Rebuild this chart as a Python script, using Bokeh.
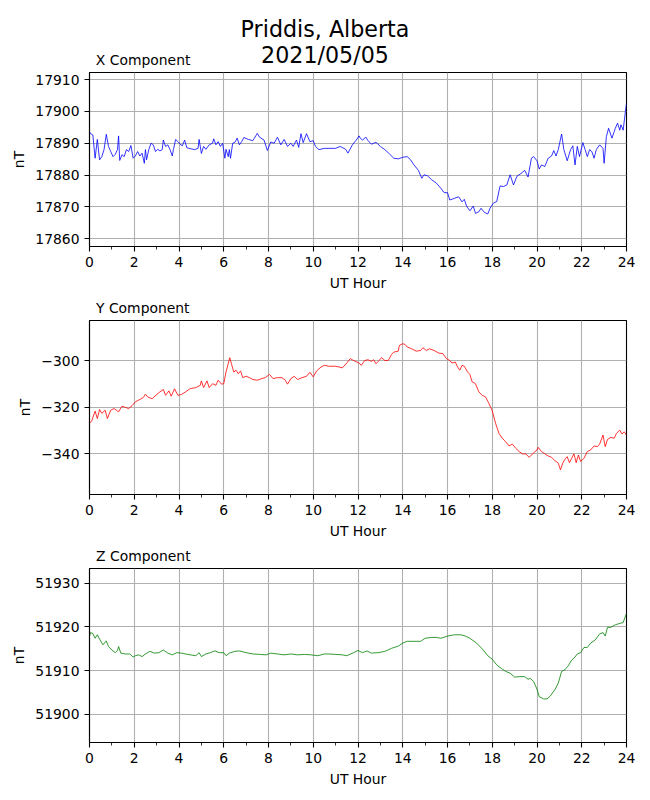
from bokeh.plotting import figure
from bokeh.layouts import column
from bokeh.models import Range1d, FixedTicker, CustomJSTickFormatter
from bokeh.core.properties import value
from bokeh.embed import file_html
from bokeh.resources import INLINE

FONT = "DejaVu Sans"

suptitle_lines = ["Priddis, Alberta", "2021/05/05"]
panel_titles = ["X Component", "Y Component", "Z Component"]
x_label = "UT Hour"
y_label = "nT"
hour_ticks = [0, 2, 4, 6, 8, 10, 12, 14, 16, 18, 20, 22, 24]
hour_minor = list(range(0, 25))

# ---- X component ----
x_hours = [0, 0.05, 0.15, 0.25, 0.35, 0.45, 0.55, 0.65, 0.75, 0.85,
           0.95, 1.05, 1.15, 1.25, 1.3, 1.35, 1.45, 1.55, 1.65, 1.75,
           1.85, 1.95, 2.05, 2.15, 2.25, 2.35, 2.45, 2.5, 2.55, 2.65,
           2.75, 2.85, 2.95, 3.05, 3.15, 3.25, 3.3, 3.4, 3.5, 3.6,
           3.7, 3.75, 3.85, 3.95, 4.05, 4.15, 4.25, 4.35, 4.5, 4.7,
           4.85, 4.9, 5.0, 5.1, 5.2, 5.35, 5.5, 5.55, 5.65, 5.75,
           5.85, 5.95, 6.05, 6.1, 6.2, 6.25, 6.3, 6.4, 6.5, 6.6,
           6.7, 6.8, 6.9, 7.1, 7.3, 7.5, 7.6, 7.8, 7.95, 8.1,
           8.25, 8.4, 8.55, 8.7, 8.85, 9.0, 9.1, 9.25, 9.35, 9.45,
           9.55, 9.7, 9.85, 10.0, 10.1, 10.25, 10.5, 10.7, 11.0, 11.2,
           11.45, 11.55, 11.75, 11.9, 12.05, 12.1, 12.2, 12.35, 12.45, 12.6,
           12.8, 13.0, 13.2, 13.4, 13.6, 13.8, 14.0, 14.2, 14.35, 14.5,
           14.7, 14.85, 14.95, 15.1, 15.3, 15.5, 15.7, 15.85, 16.0, 16.1,
           16.3, 16.5, 16.65, 16.75, 16.85, 17.0, 17.15, 17.25, 17.4, 17.5,
           17.65, 17.8, 17.9, 18.05, 18.2, 18.35, 18.5, 18.65, 18.8, 18.95,
           19.1, 19.3, 19.45, 19.6, 19.75, 19.85, 20.0, 20.1, 20.2, 20.35,
           20.5, 20.65, 20.75, 20.85, 20.95, 21.1, 21.2, 21.35, 21.5, 21.6,
           21.7, 21.8, 21.9, 22.05, 22.15, 22.25, 22.35, 22.45, 22.55, 22.65,
           22.8, 22.95, 23.0, 23.1, 23.2, 23.35, 23.5, 23.6, 23.7, 23.75,
           23.85, 23.95, 24.0]
x_values = [17893.6, 17893.0, 17892.6, 17885.3, 17891.2, 17884.8, 17885.8, 17888.0, 17892.8, 17889.0,
            17887.4, 17885.8, 17886.5, 17888.0, 17892.3, 17884.6, 17886.4, 17885.8, 17888.0, 17887.4,
            17889.3, 17885.3, 17886.0, 17887.4, 17886.0, 17886.9, 17883.7, 17888.0, 17884.8, 17888.0,
            17890.0, 17889.5, 17887.4, 17888.1, 17887.6, 17888.0, 17891.0, 17889.0, 17889.5, 17888.0,
            17886.0, 17888.0, 17891.2, 17890.5, 17889.7, 17889.2, 17891.0, 17888.6, 17888.3, 17888.0,
            17888.4, 17891.2, 17886.8, 17889.0, 17888.1, 17889.5, 17890.0, 17891.4, 17889.5, 17890.5,
            17889.0, 17890.0, 17885.3, 17888.1, 17885.8, 17888.0, 17885.3, 17890.0, 17890.3, 17891.6,
            17889.5, 17890.5, 17891.8, 17891.2, 17890.8, 17893.1, 17891.9, 17891.0, 17887.7, 17890.4,
            17890.0, 17891.9, 17889.5, 17891.2, 17889.0, 17890.0, 17889.0, 17891.0, 17888.7, 17893.0,
            17890.2, 17893.0, 17890.5, 17890.8, 17889.0, 17888.0, 17888.4, 17888.4, 17888.4, 17889.0,
            17888.1, 17886.9, 17889.5, 17890.8, 17892.3, 17891.6, 17891.0, 17891.9, 17890.8, 17889.7,
            17890.3, 17889.0, 17888.0, 17886.7, 17885.3, 17885.1, 17885.6, 17885.8, 17884.8, 17883.2,
            17881.5, 17879.0, 17880.1, 17879.8, 17878.5, 17877.5, 17875.9, 17874.5, 17874.5, 17872.2,
            17872.7, 17873.2, 17871.6, 17872.4, 17870.3, 17868.8, 17870.3, 17868.0, 17868.5, 17869.6,
            17868.3, 17867.8, 17869.6, 17871.2, 17871.7, 17876.6, 17876.4, 17876.9, 17880.1, 17876.9,
            17879.6, 17880.6, 17881.5, 17879.4, 17885.3, 17885.8, 17884.5, 17881.9, 17883.2, 17882.7,
            17885.3, 17886.0, 17887.7, 17886.0, 17888.0, 17892.9, 17888.0, 17884.5, 17888.0, 17889.2,
            17883.2, 17889.0, 17885.8, 17890.2, 17888.0, 17885.8, 17888.0, 17887.4, 17885.3, 17888.0,
            17889.5, 17888.4, 17883.7, 17892.1, 17894.7, 17891.6, 17894.7, 17896.3, 17894.1, 17895.8,
            17894.1, 17899.9, 17902.5]

# ---- Y component ----
y_hours = [0, 0.1, 0.25, 0.35, 0.45, 0.55, 0.7, 0.8, 0.95, 1.1,
           1.3, 1.45, 1.6, 1.75, 1.9, 2.05, 2.25, 2.4, 2.5, 2.6,
           2.8, 3.0, 3.15, 3.3, 3.4, 3.55, 3.65, 3.8, 3.95, 4.1,
           4.3, 4.5, 4.75, 4.95, 5.0, 5.1, 5.25, 5.35, 5.5, 5.65,
           5.75, 5.9, 6.0, 6.1, 6.2, 6.27, 6.35, 6.45, 6.55, 6.65,
           6.75, 6.85, 7.0, 7.15, 7.3, 7.5, 7.7, 7.85, 8.05, 8.2,
           8.4, 8.6, 8.75, 8.85, 9.0, 9.15, 9.3, 9.5, 9.7, 9.85,
           10.0, 10.15, 10.35, 10.5, 10.7, 11.0, 11.15, 11.3, 11.5, 11.65,
           11.8, 11.95, 12.05, 12.15, 12.3, 12.45, 12.6, 12.7, 12.8, 12.95,
           13.05, 13.2, 13.35, 13.5, 13.6, 13.8, 13.85, 14.0, 14.1, 14.2,
           14.4, 14.6, 14.8, 14.9, 15.05, 15.2, 15.4, 15.6, 15.8, 15.95,
           16.1, 16.2, 16.35, 16.45, 16.55, 16.65, 16.75, 16.9, 17.0, 17.1,
           17.25, 17.4, 17.55, 17.7, 17.85, 18.0, 18.15, 18.3, 18.45, 18.6,
           18.75, 18.9, 19.05, 19.2, 19.35, 19.5, 19.65, 19.8, 20.0, 20.05,
           20.2, 20.35, 20.5, 20.65, 20.8, 20.95, 21.05, 21.15, 21.25, 21.35,
           21.45, 21.55, 21.65, 21.75, 21.85, 21.95, 22.1, 22.25, 22.4, 22.55,
           22.7, 22.8, 22.95, 23.05, 23.15, 23.3, 23.45, 23.55, 23.7, 23.8,
           23.9, 24.0]
y_values = [-327.0, -325.9, -321.7, -324.9, -321.0, -322.7, -321.3, -324.9, -321.3, -320.6,
            -322.0, -319.6, -320.1, -320.6, -319.4, -317.7, -316.7, -315.9, -314.4, -315.6,
            -316.4, -314.6, -313.4, -312.4, -314.9, -313.0, -315.3, -312.1, -314.9, -314.6,
            -313.4, -312.0, -311.6, -310.6, -308.7, -311.6, -308.7, -311.6, -309.9, -310.6,
            -308.4, -310.1, -309.9, -304.9, -301.3, -298.7, -301.6, -304.9, -304.1, -305.6,
            -304.4, -307.3, -306.7, -307.3, -308.1, -308.4, -307.7, -307.3, -305.9, -307.7,
            -307.3, -307.3, -308.4, -310.1, -307.7, -306.7, -308.1, -307.3, -306.7, -305.0,
            -307.0, -304.4, -302.7, -302.0, -302.4, -302.4, -302.7, -303.1, -301.0, -299.1,
            -299.9, -300.6, -301.0, -302.0, -299.9, -299.6, -300.3, -299.6, -301.3, -299.9,
            -298.7, -299.9, -299.9, -297.3, -296.3, -295.9, -293.4, -292.7, -293.0, -294.1,
            -294.9, -295.9, -295.6, -294.4, -295.6, -294.9, -295.6, -296.7, -297.0, -299.1,
            -299.9, -301.0, -300.6, -302.7, -304.1, -302.0, -302.4, -304.9, -305.9, -309.1,
            -309.9, -313.4, -314.9, -315.6, -318.4, -321.6, -327.0, -331.3, -333.4, -334.9,
            -336.7, -335.9, -337.7, -339.1, -340.1, -340.1, -341.6, -340.1, -338.4, -337.3,
            -339.1, -340.1, -341.0, -341.6, -343.0, -344.1, -347.0, -344.1, -342.4, -341.3,
            -343.9, -342.0, -340.1, -343.9, -340.6, -343.4, -342.0, -339.1, -338.4, -336.7,
            -337.0, -335.9, -332.0, -337.0, -333.9, -333.0, -333.4, -331.3, -329.9, -331.6,
            -330.6, -332.0]

# ---- Z component ----
z_hours = [0, 0.05, 0.15, 0.25, 0.35, 0.45, 0.6, 0.75, 0.85, 1.0,
           1.15, 1.25, 1.3, 1.4, 1.6, 1.8, 1.95, 2.05, 2.2, 2.35,
           2.5, 2.7, 2.9, 3.1, 3.3, 3.5, 3.7, 3.9, 4.1, 4.3,
           4.5, 4.75, 4.9, 5.0, 5.2, 5.4, 5.6, 5.8, 6.0, 6.1,
           6.25, 6.5, 6.7, 7.0, 7.3, 7.6, 7.9, 8.1, 8.4, 8.7,
           9.0, 9.3, 9.6, 9.9, 10.2, 10.5, 10.7, 11.0, 11.3, 11.5,
           11.8, 12.0, 12.2, 12.4, 12.6, 12.9, 13.2, 13.5, 13.8, 14.0,
           14.2, 14.5, 14.8, 15.0, 15.3, 15.5, 15.7, 16.0, 16.3, 16.6,
           16.8, 17.0, 17.3, 17.6, 17.8, 18.0, 18.2, 18.4, 18.6, 18.8,
           19.0, 19.2, 19.45, 19.6, 19.7, 19.85, 20.0, 20.1, 20.3, 20.45,
           20.6, 20.8, 20.95, 21.1, 21.25, 21.4, 21.55, 21.65, 21.8, 21.95,
           22.1, 22.25, 22.4, 22.6, 22.8, 22.95, 23.05, 23.15, 23.3, 23.5,
           23.7, 23.85, 24.0]
z_values = [51917.9, 51918.7, 51918.5, 51917.4, 51918.2, 51917.2, 51915.9, 51916.8, 51915.5, 51914.7,
            51914.1, 51914.6, 51915.5, 51914.0, 51913.8, 51913.8, 51913.1, 51913.4, 51913.6, 51913.2,
            51913.8, 51914.4, 51914.0, 51914.1, 51914.7, 51914.0, 51913.6, 51914.1, 51914.0, 51913.8,
            51913.6, 51913.4, 51914.1, 51913.2, 51913.8, 51914.1, 51914.5, 51914.1, 51914.1, 51913.4,
            51914.0, 51914.4, 51914.5, 51914.1, 51913.8, 51913.7, 51913.6, 51914.0, 51913.8, 51913.6,
            51913.8, 51913.6, 51913.7, 51913.6, 51913.4, 51913.8, 51913.8, 51913.7, 51913.6, 51913.4,
            51914.1, 51914.6, 51914.1, 51914.5, 51914.0, 51914.1, 51914.4, 51915.1, 51915.6, 51916.3,
            51916.7, 51916.7, 51916.7, 51917.4, 51917.6, 51917.6, 51917.4, 51917.9, 51918.2, 51918.2,
            51917.9, 51917.4, 51916.3, 51914.7, 51913.4, 51912.6, 51911.3, 51910.5, 51909.8, 51909.4,
            51908.5, 51908.6, 51908.6, 51908.0, 51908.2, 51907.5, 51905.7, 51904.0, 51903.5, 51903.5,
            51904.2, 51905.6, 51907.1, 51909.8, 51910.2, 51911.1, 51912.4, 51912.8, 51913.8, 51914.1,
            51915.3, 51915.3, 51916.3, 51917.0, 51918.4, 51918.7, 51917.9, 51919.9, 51919.9, 51920.5,
            51920.8, 51921.0, 51923.1]

x_yticks = [17860, 17870, 17880, 17890, 17900, 17910]
y_yticks = [-340, -320, -300]
z_yticks = [51900, 51910, 51920, 51930]

panels = [
    (x_hours, x_values, "#0000ff", (17857.6, 17912.2), x_yticks),
    (y_hours, y_values, "#ff0000", (-357.6, -282.7), y_yticks),
    (z_hours, z_values, "#008000", (51893.5, 51933.4), z_yticks),
]

minus_fmt = "return String(tick).replace('-', '\\u2212');"

# Header strip: figure title and first panel title.
# Its frame is aligned with the panels below (page x 89..626), ranges in page pixels.
head = figure(width=650, height=70, output_backend="svg", toolbar_location=None,
              x_range=Range1d(89, 626), y_range=Range1d(70, 0),
              x_axis_location=None, y_axis_location=None, min_border=0)
head.xgrid.visible = False
head.ygrid.visible = False
head.outline_line_color = None
head.background_fill_color = "white"
head.border_fill_color = "white"
head.text(x=[324.5, 324.5], y=[28.0, 54.5], text=suptitle_lines,
          text_font=value(FONT), text_font_size=value("22.2px"), text_color="black",
          text_align="center", text_baseline="alphabetic")
head.text(x=[95.3], y=[59.3], text=[panel_titles[0]],
          text_font=value(FONT), text_font_size=value("13.9px"), text_color="black",
          text_align="left", text_baseline="alphabetic")

figs = [head]
for i, (hrs, vals, col, yr, yt) in enumerate(panels):
    kw = dict(frame_width=537, frame_height=174, output_backend="svg", toolbar_location=None,
              x_range=Range1d(0, 24), y_range=Range1d(*yr),
              min_border_left=89, min_border_right=24,
              min_border_top=2 if i == 0 else 0, min_border_bottom=47)
    if i > 0:
        kw["title"] = panel_titles[i]
    p = figure(**kw)
    if i > 0:
        p.title.align = "left"
        p.title.offset = 6.5
        p.title.standoff = 9
        p.title.text_font = FONT
        p.title.text_font_size = "13.9px"
        p.title.text_font_style = "normal"
        p.title.text_color = "black"
    p.line(hrs, vals, line_color=col, line_width=0.8)
    p.background_fill_color = "white"
    p.border_fill_color = "white"
    p.outline_line_color = "black"
    p.outline_line_width = 1.1
    p.outline_line_alpha = 1.0
    for g in (p.xgrid[0], p.ygrid[0]):
        g.grid_line_color = "#b0b0b0"
        g.grid_line_width = 1.1
    p.xaxis.ticker = FixedTicker(ticks=hour_ticks, minor_ticks=hour_minor)
    p.yaxis.ticker = FixedTicker(ticks=yt, minor_ticks=[])
    p.yaxis.formatter = CustomJSTickFormatter(code=minus_fmt)
    p.xaxis.axis_label = x_label
    p.yaxis.axis_label = y_label
    for ax in (p.xaxis[0], p.yaxis[0]):
        ax.axis_line_color = "black"
        ax.axis_line_width = 1.1
        ax.major_tick_line_color = "black"
        ax.major_tick_line_width = 1.1
        ax.minor_tick_line_color = "black"
        ax.minor_tick_line_width = 0.8
        ax.major_tick_out = 5
        ax.major_tick_in = 0
        ax.minor_tick_out = 3
        ax.minor_tick_in = 0
        ax.major_label_standoff = 5
        ax.major_label_text_font = FONT
        ax.major_label_text_font_size = "13.9px"
        ax.major_label_text_color = "black"
        ax.axis_label_text_font = FONT
        ax.axis_label_text_font_size = "13.9px"
        ax.axis_label_text_font_style = "normal"
        ax.axis_label_text_color = "black"
        ax.axis_label_standoff = 5
    p.yaxis[0].minor_tick_out = 0
    figs.append(p)

layout = column(*figs, spacing=0)
open("out.html", "w").write(file_html(layout, INLINE))
